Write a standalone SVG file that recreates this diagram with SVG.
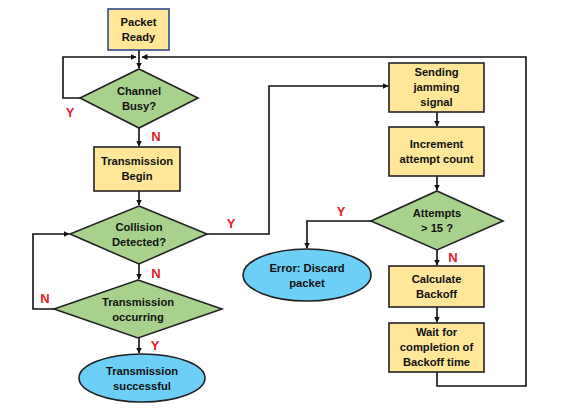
<svg xmlns="http://www.w3.org/2000/svg" width="567" height="414" viewBox="0 0 567 414">
<defs>
<marker id="ah" markerWidth="6" markerHeight="6" refX="5.5" refY="3" orient="auto" markerUnits="userSpaceOnUse">
<path d="M0,0 L6,3 L0,6 Z" fill="#111"/>
</marker>
<style>
.box{fill:#FFE699;stroke:#222;stroke-width:1.6}
.dia{fill:#A9D18E;stroke:#222;stroke-width:1.6}
.ell{fill:#6DCFF6;stroke:#222;stroke-width:1.6}
.t{font-family:"Liberation Sans",Arial,sans-serif;font-weight:bold;font-size:11.2px;fill:#111;text-anchor:middle}
.yn{font-family:"Liberation Sans",Arial,sans-serif;font-weight:bold;font-size:13px;fill:#E0202A;text-anchor:middle}
.c{fill:none;stroke:#111;stroke-width:1.6}
</style>
</defs>
<rect width="567" height="414" fill="#fff"/>
<g id="connectors">
<path class="c" d="M139,50 V68" marker-end="url(#ah)"/>
<path class="c" d="M80,98 H63 V57 H136" marker-end="url(#ah)"/>
<path class="c" d="M437,372 V386 H526 V57 H142" marker-end="url(#ah)"/>
<path class="c" d="M139,128 V146" marker-end="url(#ah)"/>
<path class="c" d="M139,191 V205" marker-end="url(#ah)"/>
<path class="c" d="M207,234 H269 V86 H388" marker-end="url(#ah)"/>
<path class="c" d="M437,112 V126" marker-end="url(#ah)"/>
<path class="c" d="M437,176 V190" marker-end="url(#ah)"/>
<path class="c" d="M371,221 H307 V248" marker-end="url(#ah)"/>
<path class="c" d="M437,250 V265" marker-end="url(#ah)"/>
<path class="c" d="M437,307 V322" marker-end="url(#ah)"/>
<path class="c" d="M139,264 V279" marker-end="url(#ah)"/>
<path class="c" d="M54,309 H33 V234 H69" marker-end="url(#ah)"/>
<path class="c" d="M139,338 V353" marker-end="url(#ah)"/>
<text class="yn" x="70" y="117">Y</text>
<text class="yn" x="156" y="141">N</text>
<text class="yn" x="231" y="228">Y</text>
<text class="yn" x="156" y="278">N</text>
<text class="yn" x="45" y="303">N</text>
<text class="yn" x="155" y="350">Y</text>
<text class="yn" x="341" y="216">Y</text>
<text class="yn" x="453" y="262">N</text>
</g>
<g id="packet-ready">
<rect x="108" y="9" width="61" height="41" style="fill:#FFE699;stroke:#2F4A8A;stroke-width:1.6"/>
<text class="t" x="138.5" y="26">Packet</text>
<text class="t" x="138.5" y="41">Ready</text>
</g>
<g id="channel-busy">
<polygon class="dia" points="139,69 198,98 139,128 80,98"/>
<text class="t" x="139" y="95">Channel</text>
<text class="t" x="139" y="110">Busy?</text>
</g>
<g id="transmission-begin">
<rect class="box" x="94" y="147" width="86" height="44"/>
<text class="t" x="137" y="165">Transmission</text>
<text class="t" x="137" y="180">Begin</text>
</g>
<g id="collision-detected">
<polygon class="dia" points="139,206 207,234 139,264 70,234"/>
<text class="t" x="139" y="231">Collision</text>
<text class="t" x="139" y="246">Detected?</text>
</g>
<g id="transmission-occurring">
<polygon class="dia" points="138,280 222,309 138,338 54,309"/>
<text class="t" x="138" y="306">Transmission</text>
<text class="t" x="138" y="321">occurring</text>
</g>
<g id="transmission-successful">
<ellipse class="ell" cx="142" cy="378" rx="63" ry="24"/>
<text class="t" x="142" y="375">Transmission</text>
<text class="t" x="142" y="390">successful</text>
</g>
<g id="sending-jamming">
<rect class="box" x="389" y="63" width="95" height="49"/>
<text class="t" x="436.5" y="76">Sending</text>
<text class="t" x="436.5" y="91">jamming</text>
<text class="t" x="436.5" y="106">signal</text>
</g>
<g id="increment-attempt">
<rect class="box" x="389" y="127" width="95" height="49"/>
<text class="t" x="436.5" y="148">Increment</text>
<text class="t" x="436.5" y="163">attempt count</text>
</g>
<g id="attempts">
<polygon class="dia" points="437,191 503,221 437,250 371,221"/>
<text class="t" x="437" y="217">Attempts</text>
<text class="t" x="437" y="232">&gt; 15 ?</text>
</g>
<g id="error-discard">
<ellipse class="ell" cx="307" cy="275" rx="64" ry="26"/>
<text class="t" x="307" y="272">Error: Discard</text>
<text class="t" x="307" y="287">packet</text>
</g>
<g id="calculate-backoff">
<rect class="box" x="389" y="266" width="95" height="41"/>
<text class="t" x="436.5" y="283">Calculate</text>
<text class="t" x="436.5" y="298">Backoff</text>
</g>
<g id="wait-backoff">
<rect class="box" x="389" y="323" width="95" height="49"/>
<text class="t" x="436.5" y="336">Wait for</text>
<text class="t" x="436.5" y="351">completion of</text>
<text class="t" x="436.5" y="366">Backoff time</text>
</g>
</svg>
